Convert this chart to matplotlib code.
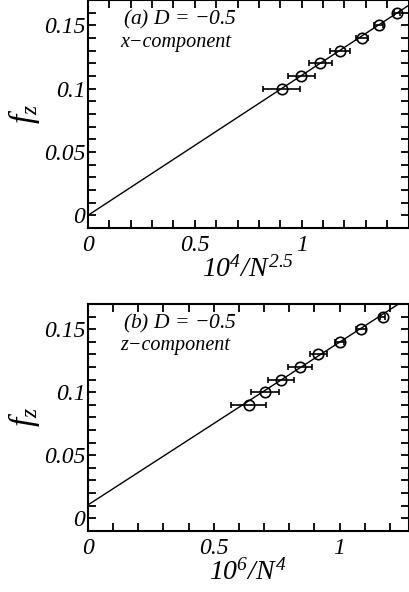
import matplotlib
matplotlib.use("Agg")
import matplotlib.pyplot as plt
from matplotlib.ticker import MultipleLocator
import numpy as np

plt.rcParams['font.family'] = 'Liberation Serif'
plt.rcParams['font.style'] = 'italic'
plt.rcParams['mathtext.fontset'] = 'custom'
plt.rcParams['mathtext.rm'] = 'Liberation Serif:italic'
plt.rcParams['mathtext.it'] = 'Liberation Serif:italic'

# panel (a): x-component, 10^4/N^2.5
xa = [0.906, 0.998, 1.088, 1.181, 1.282, 1.360, 1.445]
ya = [0.10, 0.11, 0.12, 0.13, 0.14, 0.15, 0.16]
xerr_a = [0.085, 0.063, 0.054, 0.047, 0.030, 0.020, 0.015]
fit_a = (0.0, 0.1105)   # intercept, slope

# panel (b): z-component, 10^6/N^4
xb = [0.639, 0.702, 0.768, 0.841, 0.916, 1.000, 1.086, 1.172]
yb = [0.09, 0.10, 0.11, 0.12, 0.13, 0.14, 0.15, 0.16]
xerr_b = [0.070, 0.056, 0.051, 0.048, 0.035, 0.017, 0.019, 0.010]
fit_b = (0.0105, 0.1292)

panels = [
    dict(x=xa, y=ya, xerr=xerr_a, fit=fit_a, xmax=1.5,
         title='(a) $D$ = −0.5', comp='x−component',
         xlabel=r'$10^4/N^{2.5}$', rect=[0.2152, 0.6149, 0.7836, 0.385]),
    dict(x=xb, y=yb, xerr=xerr_b, fit=fit_b, xmax=1.274,
         title='(b) $D$ = −0.5', comp='z−component',
         xlabel=r'$10^6/N^4$', rect=[0.2152, 0.1035, 0.7836, 0.383]),
]

fig = plt.figure(figsize=(4.09, 5.92), dpi=100)

for p in panels:
    ax = fig.add_axes(p['rect'])
    xs = np.linspace(0, p['xmax'], 200)
    ax.plot(xs, p['fit'][0] + p['fit'][1] * xs, color='black', lw=1.0)
    ax.errorbar(p['x'], p['y'], xerr=p['xerr'], fmt='o', mfc='none', mec='black',
                ms=7.5, mew=1.2, ecolor='black', elinewidth=1.2, capsize=2, capthick=1.2)
    ax.set_xlim(0, p['xmax'])
    ax.set_ylim(-0.01, 0.17)
    ax.xaxis.set_minor_locator(MultipleLocator(0.1))
    ax.yaxis.set_minor_locator(MultipleLocator(0.01))
    ax.set_xticks([0, 0.5, 1])
    ax.set_xticklabels(['0', '0.5', '1'], fontstyle='italic')
    ax.set_yticks([0, 0.05, 0.1, 0.15])
    ax.set_yticklabels(['0', '0.05', '0.1', '0.15'], fontstyle='italic')
    ax.tick_params(which='both', direction='in', top=True, right=True,
                   length=6, width=1.3, labelsize=17)
    ax.tick_params(axis='x', pad=5)
    ax.tick_params(axis='y', pad=2)
    for s in ax.spines.values():
        s.set_linewidth(1.5)
    ax.text(0.11, 0.915, p['title'], transform=ax.transAxes, fontsize=15.5,
            ha='left', va='center')
    ax.text(0.10, 0.815, p['comp'], transform=ax.transAxes, fontsize=14.5,
            ha='left', va='center')
    ax.set_xlabel(p['xlabel'], fontsize=20, labelpad=0)
    ax.set_ylabel(r'$f_z$', fontsize=24, labelpad=1)

fig.savefig('out.png', dpi=100)
